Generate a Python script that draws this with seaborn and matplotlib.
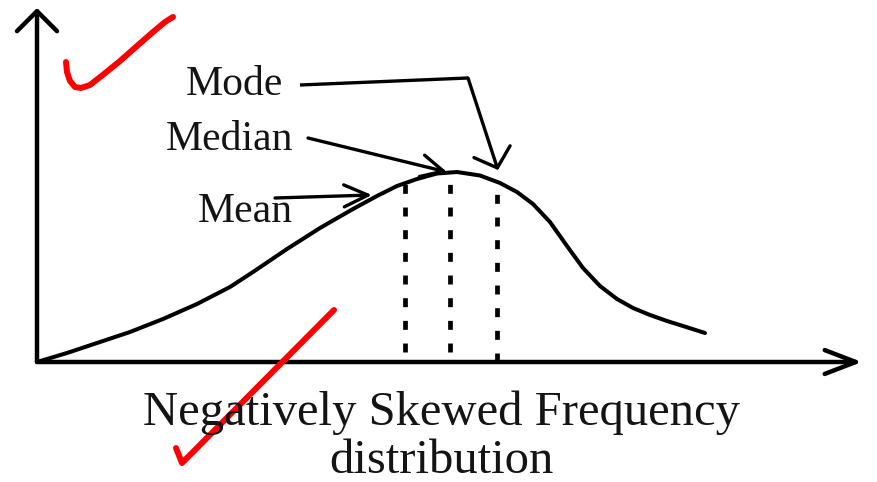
import matplotlib
matplotlib.use('Agg')
import matplotlib.pyplot as plt
import seaborn as sns

# curve (x from the origin, y up from the x axis)
curve_x = [0, 30, 60, 93, 126, 160, 193, 216, 250, 283, 316, 340, 360, 380, 400,
           420, 443, 463, 480, 496, 513, 530, 546, 563, 580, 596, 613, 630, 646, 668]
curve_y = [0, 9, 19, 30, 43, 58, 75, 90, 113, 134, 153, 166, 176, 183, 188.5,
           190, 186.5, 179, 170, 158, 140, 116, 94, 76, 63, 54, 47, 41, 36, 29]

# mean, median, mode
measure_names = ['Mean', 'Median', 'Mode']
measure_x = [368, 413, 460]
measure_top = [179, 179, 168]
measure_bottom = [10, 10, 0]

# label positions and arrow ends
label_x = [256, 256, 246]
label_y = [140, 212, 267]
arrow_start = [(238, 164), (271, 224), (431, 284)]
arrow_tip = [(335, 167), (410, 190), (461, 192)]
arrow_heads = ['->,head_length=1.2,head_width=0.55',
               '->,head_length=1.1,head_width=0.55',
               '->,head_length=0.85,head_width=0.95']
mode_leader_x = [263, 431]
mode_leader_y = [277, 284]

# red pen ticks drawn over the diagram
tick1_x = [29, 30, 33, 38, 44, 53, 67, 83, 100, 116, 128, 136]
tick1_y = [300, 290, 281, 275, 274, 277, 288, 301, 316, 330, 340, 345]
tick2_x = [139, 145, 297]
tick2_y = [-86, -101, 52]

sns.set_theme(style='white')
plt.rcParams['font.family'] = ['Liberation Serif', 'DejaVu Serif']

fig = plt.figure(figsize=(8.78, 4.82), dpi=100)
ax = fig.add_axes([37 / 878, 120 / 482, 825 / 878, 354 / 482])

sns.lineplot(x=curve_x, y=curve_y, ax=ax, color='black', lw=2.9,
             sort=False, estimator=None)
ax.vlines(measure_x, measure_bottom, measure_top, colors='black',
          linestyles=(0, (1.9, 2.9)), lw=3.4)

ax.set_xlim(0, 825)
ax.set_ylim(0, 354)
ax.axis('off')

# axes with open arrow heads
ax.annotate('', xy=(0, 1), xytext=(0, 0), xycoords='axes fraction',
            arrowprops=dict(arrowstyle='->,head_length=0.72,head_width=0.72',
                            lw=3.2, color='black', mutation_scale=20,
                            shrinkA=0, shrinkB=0),
            annotation_clip=False)
ax.annotate('', xy=(1, 0), xytext=(0, 0), xycoords='axes fraction',
            arrowprops=dict(arrowstyle='->,head_length=1.12,head_width=0.43',
                            lw=3.2, color='black', mutation_scale=20,
                            shrinkA=0, shrinkB=0),
            annotation_clip=False)

for name, lx, ly, start, tip, head in zip(measure_names, label_x, label_y,
                                          arrow_start, arrow_tip, arrow_heads):
    ax.text(lx, ly, name, ha='right', va='baseline', fontsize=30,
            color='#141414')
    ax.annotate('', xy=tip, xytext=start,
                arrowprops=dict(arrowstyle=head, lw=2.4, color='black',
                                mutation_scale=14.4, shrinkA=0, shrinkB=0))
ax.plot(mode_leader_x, mode_leader_y, color='black', lw=2.4,
        solid_capstyle='butt')

ax.plot(tick1_x, tick1_y, color='#ff0000', lw=4.3, clip_on=False,
        solid_capstyle='round', solid_joinstyle='round', zorder=10)
ax.plot(tick2_x, tick2_y, color='#ff0000', lw=4.3, clip_on=False,
        solid_capstyle='round', solid_joinstyle='round', zorder=10)

fig.text(0.503, 57 / 482, 'Negatively Skewed Frequency', ha='center',
         va='baseline', fontsize=35, color='#141414')
fig.text(0.503, 9 / 482, 'distribution', ha='center', va='baseline',
         fontsize=35, color='#141414')

fig.savefig('out.png', dpi=100)
